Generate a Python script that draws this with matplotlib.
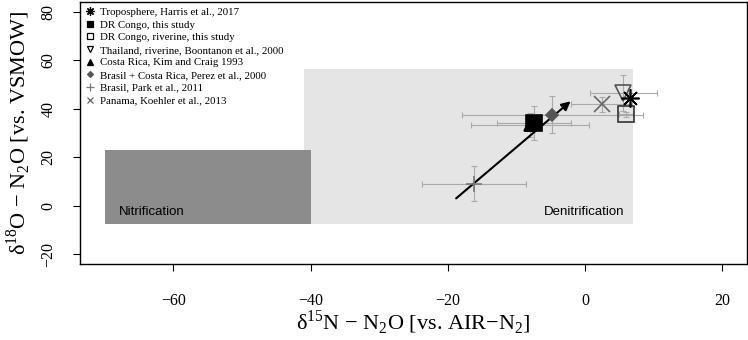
import numpy as np
import matplotlib
matplotlib.use('Agg')
import matplotlib.pyplot as plt
from matplotlib.patches import Rectangle
from matplotlib.lines import Line2D

plt.rcParams['font.family'] = ['Liberation Serif', 'DejaVu Serif']
plt.rcParams['mathtext.fontset'] = 'custom'
plt.rcParams['mathtext.rm'] = 'Liberation Serif'

# studies (legend order)
labels = ['Troposphere, Harris et al., 2017',
          'DR Congo, this study',
          'DR Congo, riverine, this study',
          'Thailand, riverine, Boontanon et al., 2000',
          'Costa Rica, Kim and Craig 1993',
          'Brasil + Costa Rica, Perez et al., 2000',
          'Brasil, Park et al., 2011',
          'Panama, Koehler et al., 2013']
d15N = [6.5, -7.5, 6.0, 5.6, -8.0, -4.8, -16.2, 2.4]
d18O = [44.5, 34.3, 37.7, 46.5, 33.4, 37.6, 9.0, 41.8]
d15N_sd = [0.0, 5.4, 1.0, 4.9, 8.6, 13.2, 7.6, 4.4]
d18O_sd = [0.0, 7.0, 1.0, 7.5, 5.0, 7.6, 7.2, 3.2]

# source boxes
nitri_x = [-70, -40]
nitri_y = [-7.5, 23]
denit_x = [-41, 7]
denit_y = [-7.5, 56.5]

# denitrification trend arrow
arrow_x = [-19.1, -1.8]
arrow_y = [2.3, 43.8]

markers = [(8, 2, 0), 's', 's', 'v', '^', 'D', '+', 'x']
fills = ['k', 'k', 'none', 'none', 'k', '#555555', '#777777', '#666666']
edges = ['k', 'k', '#333333', '#555555', 'k', '#555555', '#777777', '#666666']
sizes = [13, 11, 12, 11, 9, 6, 11, 11]
leg_sizes = [6, 4.5, 4.5, 5, 5, 3, 6, 5]

fig = plt.figure(figsize=(7.48, 3.40), dpi=100)
ax = fig.add_axes([80/748, 76/340, 667/748, 262/340])

ax.add_patch(Rectangle((denit_x[0], denit_y[0]), denit_x[1]-denit_x[0],
                       denit_y[1]-denit_y[0], color='#e5e5e5', lw=0, zorder=0))
ax.add_patch(Rectangle((nitri_x[0], nitri_y[0]), nitri_x[1]-nitri_x[0],
                       nitri_y[1]-nitri_y[0], color='#8c8c8c', lw=0, zorder=1))
ax.text(nitri_x[0] + 2, -2.6, 'Nitrification', family='Liberation Sans',
        fontsize=9.5, va='center', ha='left', zorder=2)
ax.text(denit_x[1] - 1.2, -2.6, 'Denitrification', family='Liberation Sans',
        fontsize=9.5, va='center', ha='right', zorder=2)

for i in range(len(labels)):
    if d15N_sd[i] > 0:
        ax.errorbar(d15N[i], d18O[i], xerr=d15N_sd[i], yerr=d18O_sd[i],
                    fmt='none', ecolor='#aaaaaa', elinewidth=0.8,
                    capsize=2.5, capthick=0.8, zorder=3)

ax.annotate('', xy=(arrow_x[1], arrow_y[1]), xytext=(arrow_x[0], arrow_y[0]),
            arrowprops=dict(arrowstyle='-|>', lw=1.5, color='k',
                            mutation_scale=13), zorder=4)

order = [4, 1, 5, 6, 7, 3, 2, 0]
for i in order:
    ax.plot(d15N[i], d18O[i], marker=markers[i], ms=sizes[i],
            mfc=fills[i], mec=edges[i], mew=1.2, ls='none', zorder=5)

handles = [Line2D([], [], marker=markers[i], ms=leg_sizes[i], mfc=fills[i],
                  mec='k' if fills[i] == 'none' else fills[i], mew=0.9,
                  ls='none') for i in range(len(labels))]
ax.legend(handles, labels, loc='upper left', frameon=False, fontsize=7.8,
          handlelength=0.8, handletextpad=0.5, labelspacing=0.28,
          borderaxespad=0.2, borderpad=0.3)

ax.set_xlim(-73.6, 23.6)
ax.set_ylim(-24, 84)
ax.set_xticks([-60, -40, -20, 0, 20])
ax.set_yticks([-20, 0, 20, 40, 60, 80])
ax.tick_params(axis='both', direction='out', length=5, width=0.8,
               labelsize=11.5)
ax.tick_params(axis='x', pad=16)
ax.tick_params(axis='y', pad=12)
plt.setp(ax.get_yticklabels(), rotation=90, va='center')
for s in ax.spines.values():
    s.set_linewidth(1.0)

ax.set_xlabel('δ$^{15}$N − N$_2$O [vs. AIR−N$_2$]', fontsize=16, labelpad=-1)
ax.set_ylabel('δ$^{18}$O − N$_2$O [vs. VSMOW]', fontsize=16, labelpad=6)

fig.savefig('out.png', dpi=100)
